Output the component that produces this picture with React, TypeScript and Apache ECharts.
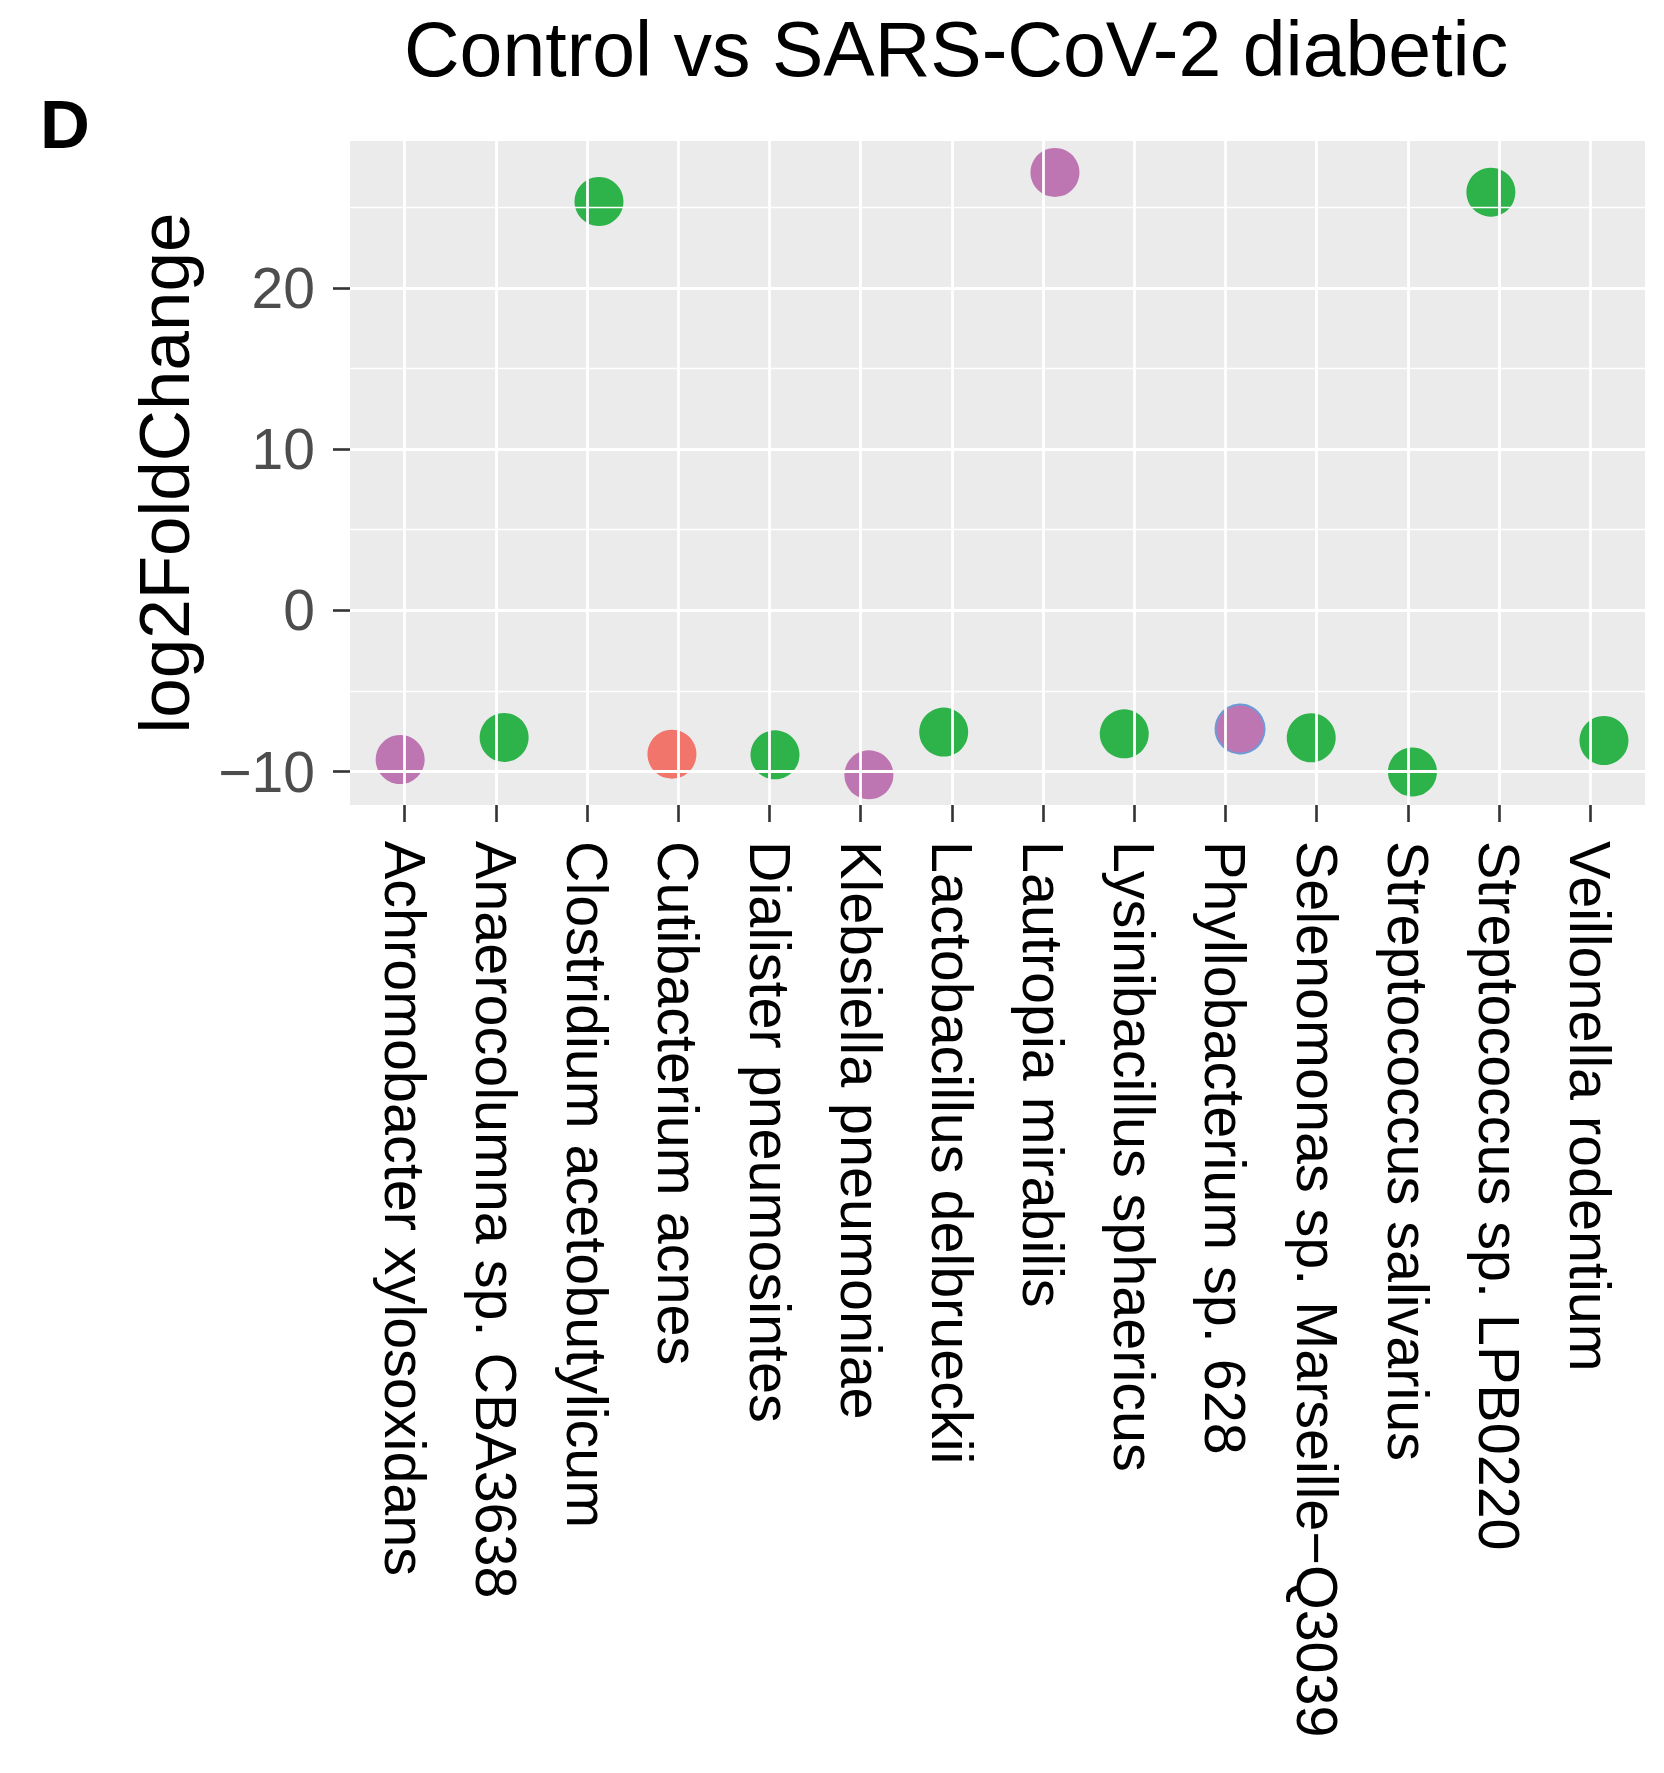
import React, { useEffect, useRef } from "react";
import * as echarts from "echarts";

const categories = [
  "Achromobacter xylosoxidans",
  "Anaerocolumna sp. CBA3638",
  "Clostridium acetobutylicum",
  "Cutibacterium acnes",
  "Dialister pneumosintes",
  "Klebsiella pneumoniae",
  "Lactobacillus delbrueckii",
  "Lautropia mirabilis",
  "Lysinibacillus sphaericus",
  "Phyllobacterium sp. 628",
  "Selenomonas sp. Marseille\u2212Q3039",
  "Streptococcus salivarius",
  "Streptococcus sp. LPB0220",
  "Veillonella rodentium",
];

const log2FoldChange = [-9.25, -7.88, 25.35, -8.92, -8.96, -10.2, -7.55, 27.15, -7.66, -7.36, -7.9, -10.02, 25.93, -8.07];
// horizontal jitter (in category units)
const jitterOffset = [-0.05, 0.09, 0.13, -0.07, 0.06, 0.09, -0.09, 0.13, -0.11, 0.16, -0.06, 0.05, -0.09, 0.15];
const groups = ["purple", "green", "green", "red", "green", "purple", "green", "purple", "green", "purple", "green", "green", "green", "green"];
const outlines = [null, null, null, null, null, null, null, null, null, "blue", null, null, null, null];

const groupColors: Record<string, string> = {
  purple: "#BE76B2",
  green: "#2EB34B",
  red: "#F2756C",
  blue: "#6C9BD8",
};

const yMajorTicks = [-10, 0, 10, 20];
const yMinorTicks = [-5, 5, 15, 25];
const yMin = -12.07;
const yMax = 29.1;

const FONT = "'Liberation Sans', Arial, Helvetica, sans-serif";

export default function App() {
  const ref = useRef<HTMLDivElement>(null);
  useEffect(() => {
    if (!ref.current) return;
    const chart = echarts.init(ref.current, null, { renderer: "svg" });
    const xIdx = categories.map((_, i) => i);
    const gridLeft = 350;
    const gridTop = 141;
    const gridW = 1295;
    const gridH = 664;

    const hLines = [
      ...yMinorTicks.map((v) => ({ yAxis: v, lineStyle: { color: "#ffffff", width: 1.4, type: "solid" as const } })),
      ...yMajorTicks.map((v) => ({ yAxis: v, lineStyle: { color: "#ffffff", width: 2.8, type: "solid" as const } })),
    ];
    const vLines = xIdx.map((v) => ({ xAxis: v, lineStyle: { color: "#ffffff", width: 2.8, type: "solid" as const } }));

    const points = log2FoldChange.map((v, i) => ({
      value: [i + jitterOffset[i], v],
      itemStyle: {
        color: groupColors[groups[i]],
        opacity: 1,
        borderColor: outlines[i] ? groupColors[outlines[i] as string] : groupColors[groups[i]],
        borderWidth: outlines[i] ? 2 : 0,
      },
    }));

    chart.setOption({
      animation: false,
      backgroundColor: "#ffffff",
      grid: {
        left: gridLeft,
        top: gridTop,
        width: gridW,
        height: gridH,
        show: true,
        backgroundColor: "#EBEBEB",
        borderWidth: 0,
        containLabel: false,
        outerBoundsMode: "none",
      },
      xAxis: {
        type: "value",
        min: -0.6,
        max: categories.length - 0.4,
        axisLine: { show: false, onZero: false },
        splitLine: { show: false },
        axisTick: {
          show: true,
          customValues: xIdx,
          length: 17,
          lineStyle: { color: "#333333", width: 2.6 },
        },
        axisLabel: {
          customValues: xIdx,
          formatter: (v: number) => categories[Math.round(v)] ?? "",
          rotate: -90,
          margin: 36,
          fontSize: 57.5,
          color: "#000000",
          fontFamily: FONT,
        },
      },
      yAxis: {
        type: "value",
        min: yMin,
        max: yMax,
        axisLine: { show: false, onZero: false },
        splitLine: { show: false },
        axisTick: {
          show: true,
          customValues: yMajorTicks,
          length: 17,
          lineStyle: { color: "#333333", width: 2.6 },
        },
        axisLabel: {
          customValues: yMajorTicks,
          formatter: (v: number) => (v < 0 ? "\u2212" + Math.abs(v) : String(v)),
          margin: 35,
          fontSize: 57,
          color: "#4D4D4D",
          fontFamily: FONT,
        },
      },
      graphic: [
        {
          type: "text",
          left: 404,
          top: 10,
          style: { text: "Control vs SARS-CoV-2 diabetic", font: `77px ${FONT}`, fill: "#000000" },
        },
        {
          type: "text",
          left: 40,
          top: 90,
          style: { text: "D", font: `bold 69px ${FONT}`, fill: "#000000" },
        },
        {
          type: "text",
          x: 164,
          y: 473,
          rotation: Math.PI / 2,
          style: {
            text: "log2FoldChange",
            font: `71px ${FONT}`,
            fill: "#000000",
            textAlign: "center",
            textVerticalAlign: "middle",
          },
        },
      ],
      series: [
        {
          type: "scatter",
          data: [],
          z: 1,
          silent: true,
          markLine: {
            silent: true,
            symbol: ["none", "none"],
            label: { show: false },
            emphasis: { disabled: true },
            animation: false,
            data: [...hLines, ...vLines],
          },
        },
        {
          type: "scatter",
          z: 3,
          symbol: "circle",
          symbolSize: 49,
          data: points,
        },
      ],
    });
    return () => chart.dispose();
  }, []);
  return (
    <div
      ref={ref}
      style={{ position: "fixed", left: 0, top: 0, width: 1664, height: 1773, background: "#fff" }}
    />
  );
}
